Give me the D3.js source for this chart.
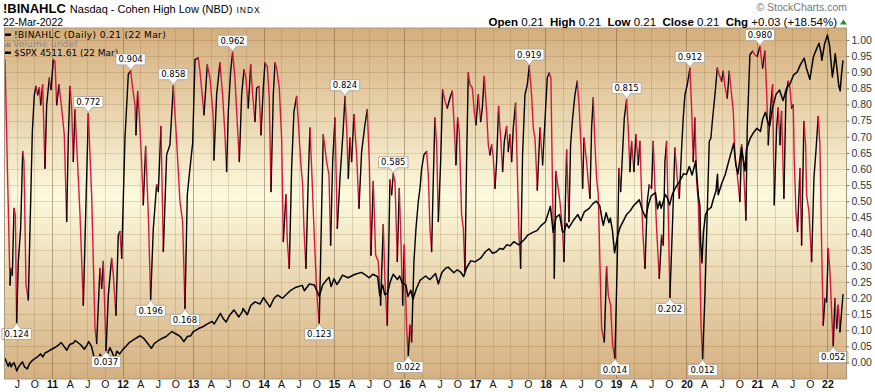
<!DOCTYPE html>
<html><head><meta charset="utf-8">
<script src="https://cdn.jsdelivr.net/npm/d3@7"></script>
<style>body{margin:0;background:#fff;}svg{display:block;}</style>
</head><body>
<svg id="chart" width="875" height="392"></svg>
<script>
// ---- DATA (time in decimal years, value) ----
const hlData = [[2010.333,0.939],[2010.404,0.240],[2010.418,0.292],[2010.437,0.271],[2010.461,0.478],[2010.480,0.458],[2010.498,0.124],[2010.522,0.313],[2010.555,0.416],[2010.584,0.654],[2010.602,0.623],[2010.631,0.240],[2010.664,0.194],[2010.688,0.416],[2010.721,0.716],[2010.749,0.830],[2010.773,0.856],[2010.796,0.830],[2010.820,0.851],[2010.839,0.799],[2010.867,0.861],[2010.900,0.602],[2010.924,0.799],[2010.962,0.882],[2010.985,0.846],[2011.019,0.939],[2011.042,0.934],[2011.066,0.799],[2011.099,0.861],[2011.137,0.789],[2011.174,0.706],[2011.208,0.437],[2011.231,0.696],[2011.255,0.856],[2011.279,0.789],[2011.302,0.623],[2011.326,0.784],[2011.373,0.571],[2011.397,0.458],[2011.444,0.178],[2011.515,0.772],[2011.562,0.520],[2011.610,0.106],[2011.633,0.059],[2011.680,0.292],[2011.704,0.230],[2011.728,0.313],[2011.766,0.037],[2011.799,0.209],[2011.846,0.323],[2011.870,0.271],[2011.907,0.147],[2011.940,0.395],[2011.964,0.406],[2011.988,0.323],[2012.035,0.696],[2012.082,0.893],[2012.115,0.904],[2012.144,0.851],[2012.177,0.799],[2012.191,0.706],[2012.215,0.840],[2012.238,0.768],[2012.271,0.623],[2012.295,0.489],[2012.328,0.670],[2012.366,0.458],[2012.399,0.196],[2012.437,0.416],[2012.484,0.551],[2012.508,0.530],[2012.546,0.732],[2012.579,0.344],[2012.626,0.644],[2012.673,0.675],[2012.721,0.858],[2012.768,0.685],[2012.815,0.499],[2012.853,0.437],[2012.886,0.168],[2012.919,0.520],[2012.957,0.602],[2012.995,0.680],[2013.028,0.939],[2013.075,0.944],[2013.099,0.903],[2013.156,0.768],[2013.203,0.923],[2013.241,0.882],[2013.288,0.758],[2013.297,0.628],[2013.335,0.830],[2013.382,0.929],[2013.420,0.830],[2013.453,0.706],[2013.477,0.592],[2013.501,0.778],[2013.534,0.903],[2013.562,0.962],[2013.595,0.882],[2013.619,0.778],[2013.657,0.623],[2013.690,0.830],[2013.723,0.908],[2013.751,0.882],[2013.784,0.789],[2013.818,0.923],[2013.846,0.830],[2013.879,0.747],[2013.903,0.851],[2013.936,0.856],[2013.964,0.706],[2013.997,0.851],[2014.021,0.929],[2014.054,0.918],[2014.082,0.820],[2014.106,0.530],[2014.139,0.830],[2014.163,0.929],[2014.186,0.913],[2014.224,0.851],[2014.257,0.696],[2014.281,0.375],[2014.319,0.520],[2014.338,0.375],[2014.366,0.292],[2014.399,0.602],[2014.432,0.778],[2014.470,0.825],[2014.494,0.747],[2014.527,0.623],[2014.555,0.551],[2014.574,0.416],[2014.602,0.292],[2014.635,0.571],[2014.659,0.727],[2014.683,0.602],[2014.716,0.416],[2014.754,0.219],[2014.791,0.123],[2014.825,0.478],[2014.848,0.706],[2014.872,0.665],[2014.895,0.623],[2014.929,0.582],[2014.952,0.364],[2014.981,0.623],[2015.014,0.758],[2015.047,0.416],[2015.085,0.571],[2015.132,0.727],[2015.156,0.824],[2015.180,0.727],[2015.203,0.571],[2015.227,0.696],[2015.250,0.623],[2015.283,0.768],[2015.321,0.644],[2015.354,0.478],[2015.392,0.654],[2015.439,0.737],[2015.472,0.784],[2015.501,0.623],[2015.524,0.333],[2015.557,0.561],[2015.591,0.333],[2015.628,0.313],[2015.661,0.178],[2015.699,0.427],[2015.723,0.251],[2015.756,0.116],[2015.794,0.566],[2015.818,0.520],[2015.841,0.585],[2015.865,0.561],[2015.898,0.313],[2015.926,0.540],[2015.950,0.375],[2015.974,0.178],[2015.997,0.364],[2016.030,0.106],[2016.054,0.022],[2016.078,0.116],[2016.101,0.064],[2016.134,0.313],[2016.163,0.416],[2016.196,0.499],[2016.220,0.540],[2016.243,0.600],[2016.276,0.644],[2016.314,0.654],[2016.338,0.582],[2016.361,0.416],[2016.385,0.344],[2016.409,0.571],[2016.432,0.758],[2016.456,0.675],[2016.480,0.437],[2016.513,0.623],[2016.541,0.846],[2016.574,0.810],[2016.607,0.789],[2016.645,0.820],[2016.678,0.841],[2016.702,0.747],[2016.730,0.613],[2016.754,0.758],[2016.777,0.716],[2016.810,0.458],[2016.834,0.416],[2016.858,0.282],[2016.881,0.623],[2016.905,0.898],[2016.929,0.861],[2016.962,0.851],[2016.990,0.778],[2017.014,0.737],[2017.047,0.830],[2017.080,0.747],[2017.104,0.789],[2017.132,0.887],[2017.165,0.778],[2017.189,0.675],[2017.212,0.644],[2017.236,0.675],[2017.260,0.634],[2017.283,0.540],[2017.307,0.623],[2017.335,0.794],[2017.364,0.696],[2017.392,0.592],[2017.416,0.685],[2017.449,0.732],[2017.472,0.654],[2017.496,0.706],[2017.520,0.623],[2017.543,0.727],[2017.576,0.804],[2017.600,0.602],[2017.624,0.395],[2017.647,0.292],[2017.675,0.644],[2017.709,0.830],[2017.742,0.861],[2017.770,0.919],[2017.803,0.830],[2017.827,0.727],[2017.851,0.696],[2017.884,0.535],[2017.922,0.727],[2017.959,0.613],[2017.992,0.747],[2018.025,0.882],[2018.054,0.898],[2018.077,0.882],[2018.101,0.520],[2018.125,0.261],[2018.148,0.592],[2018.181,0.540],[2018.205,0.499],[2018.243,0.406],[2018.262,0.313],[2018.300,0.659],[2018.333,0.437],[2018.356,0.675],[2018.385,0.758],[2018.418,0.830],[2018.451,0.872],[2018.479,0.789],[2018.503,0.675],[2018.527,0.540],[2018.546,0.696],[2018.583,0.623],[2018.607,0.561],[2018.631,0.509],[2018.654,0.727],[2018.678,0.820],[2018.702,0.675],[2018.725,0.571],[2018.749,0.520],[2018.773,0.302],[2018.796,0.106],[2018.834,0.064],[2018.867,0.297],[2018.891,0.209],[2018.924,0.178],[2018.952,0.054],[2018.985,0.014],[2019.018,0.313],[2019.042,0.602],[2019.066,0.530],[2019.094,0.654],[2019.118,0.758],[2019.151,0.815],[2019.174,0.727],[2019.198,0.592],[2019.222,0.685],[2019.255,0.592],[2019.283,0.706],[2019.316,0.613],[2019.340,0.685],[2019.378,0.416],[2019.411,0.292],[2019.444,0.499],[2019.472,0.551],[2019.505,0.540],[2019.529,0.685],[2019.553,0.540],[2019.576,0.416],[2019.614,0.261],[2019.647,0.395],[2019.671,0.364],[2019.694,0.623],[2019.718,0.685],[2019.742,0.458],[2019.765,0.202],[2019.803,0.437],[2019.836,0.665],[2019.869,0.571],[2019.898,0.509],[2019.931,0.665],[2019.954,0.758],[2019.978,0.830],[2020.011,0.861],[2020.049,0.912],[2020.073,0.789],[2020.096,0.623],[2020.120,0.758],[2020.144,0.561],[2020.167,0.499],[2020.191,0.313],[2020.205,0.126],[2020.229,0.012],[2020.262,0.209],[2020.295,0.468],[2020.323,0.685],[2020.347,0.696],[2020.371,0.758],[2020.404,0.830],[2020.437,0.913],[2020.465,0.892],[2020.498,0.872],[2020.522,0.903],[2020.546,0.856],[2020.579,0.820],[2020.607,0.903],[2020.640,0.830],[2020.664,0.778],[2020.687,0.644],[2020.711,0.602],[2020.735,0.551],[2020.758,0.499],[2020.782,0.675],[2020.806,0.623],[2020.843,0.442],[2020.862,0.727],[2020.900,0.954],[2020.938,0.965],[2020.971,0.954],[2021.004,0.949],[2021.042,0.980],[2021.080,0.913],[2021.113,0.965],[2021.137,0.841],[2021.160,0.675],[2021.184,0.768],[2021.222,0.861],[2021.245,0.489],[2021.278,0.727],[2021.302,0.789],[2021.326,0.675],[2021.349,0.778],[2021.382,0.509],[2021.411,0.830],[2021.444,0.872],[2021.468,0.851],[2021.491,0.789],[2021.515,0.799],[2021.529,0.623],[2021.553,0.468],[2021.576,0.406],[2021.610,0.602],[2021.633,0.364],[2021.666,0.747],[2021.690,0.675],[2021.704,0.520],[2021.737,0.468],[2021.775,0.313],[2021.808,0.571],[2021.836,0.654],[2021.869,0.763],[2021.893,0.675],[2021.917,0.364],[2021.940,0.116],[2021.964,0.199],[2021.988,0.188],[2022.011,0.354],[2022.035,0.282],[2022.059,0.157],[2022.082,0.052],[2022.106,0.199],[2022.130,0.106],[2022.153,0.178],[2022.177,0.095],[2022.220,0.210]];

const spxData = [[2010.334,1165],[2010.36,1110],[2010.38,1075],[2010.40,1120],[2010.42,1070],[2010.44,1100],[2010.46,1115],[2010.48,1075],[2010.50,1022],[2010.52,1060],[2010.55,1095],[2010.58,1125],[2010.61,1070],[2010.65,1047],[2010.68,1105],[2010.72,1140],[2010.75,1160],[2010.80,1185],[2010.84,1215],[2010.87,1180],[2010.90,1225],[2010.95,1245],[2011.00,1270],[2011.05,1290],[2011.10,1320],[2011.13,1343],[2011.17,1300],[2011.21,1256],[2011.25,1320],[2011.30,1335],[2011.33,1364],[2011.37,1340],[2011.41,1315],[2011.46,1268],[2011.50,1320],[2011.52,1353],[2011.56,1300],[2011.59,1200],[2011.61,1119],[2011.64,1180],[2011.66,1140],[2011.68,1210],[2011.71,1175],[2011.74,1130],[2011.75,1099],[2011.78,1200],[2011.82,1285],[2011.86,1220],[2011.89,1158],[2011.92,1245],[2011.96,1215],[2012.00,1260],[2012.05,1300],[2012.10,1345],[2012.17,1380],[2012.25,1419],[2012.30,1390],[2012.35,1340],[2012.41,1278],[2012.45,1330],[2012.50,1360],[2012.55,1385],[2012.62,1410],[2012.70,1466],[2012.78,1430],[2012.82,1410],[2012.87,1353],[2012.92,1410],[2012.97,1420],[2013.00,1462],[2013.08,1500],[2013.14,1520],[2013.20,1550],[2013.27,1580],[2013.30,1550],[2013.36,1630],[2013.39,1669],[2013.43,1610],[2013.47,1573],[2013.52,1650],[2013.58,1709],[2013.65,1630],[2013.70,1690],[2013.71,1725],[2013.77,1655],[2013.82,1760],[2013.88,1800],[2013.95,1775],[2014.00,1848],[2014.05,1790],[2014.09,1741],[2014.15,1840],[2014.20,1875],[2014.27,1840],[2014.32,1880],[2014.38,1925],[2014.45,1960],[2014.55,1985],[2014.58,1925],[2014.65,2000],[2014.72,1990],[2014.76,1920],[2014.79,1862],[2014.84,1990],[2014.90,2050],[2014.93,2075],[2014.96,1972],[2015.00,2060],[2015.04,1995],[2015.08,2040],[2015.12,2100],[2015.20,2070],[2015.25,2090],[2015.30,2110],[2015.39,2131],[2015.45,2100],[2015.50,2070],[2015.55,2110],[2015.60,2090],[2015.62,2080],[2015.65,1868],[2015.69,1990],[2015.72,1880],[2015.76,1900],[2015.80,2030],[2015.84,2109],[2015.90,2050],[2015.93,2090],[2015.97,2010],[2016.02,1990],[2016.05,1859],[2016.09,1930],[2016.12,1829],[2016.17,1950],[2016.22,2040],[2016.30,2090],[2016.36,2050],[2016.42,2100],[2016.44,2119],[2016.48,2001],[2016.53,2130],[2016.58,2175],[2016.62,2190],[2016.70,2127],[2016.75,2160],[2016.80,2130],[2016.84,2085],[2016.88,2180],[2016.94,2260],[2017.00,2250],[2017.08,2290],[2017.15,2365],[2017.20,2395],[2017.25,2345],[2017.30,2360],[2017.35,2400],[2017.40,2390],[2017.45,2440],[2017.50,2430],[2017.55,2475],[2017.62,2440],[2017.70,2500],[2017.75,2550],[2017.82,2580],[2017.88,2600],[2017.93,2650],[2018.00,2700],[2018.07,2873],[2018.10,2650],[2018.11,2581],[2018.15,2750],[2018.20,2780],[2018.24,2590],[2018.26,2582],[2018.30,2680],[2018.33,2630],[2018.40,2720],[2018.46,2780],[2018.50,2710],[2018.55,2810],[2018.62,2850],[2018.67,2900],[2018.72,2931],[2018.77,2880],[2018.80,2740],[2018.82,2660],[2018.86,2800],[2018.90,2690],[2018.92,2740],[2018.95,2600],[2018.98,2351],[2019.02,2530],[2019.06,2640],[2019.10,2700],[2019.15,2780],[2019.20,2820],[2019.25,2880],[2019.30,2920],[2019.33,2946],[2019.37,2840],[2019.42,2744],[2019.46,2890],[2019.50,2990],[2019.56,3026],[2019.59,2844],[2019.62,2930],[2019.64,2850],[2019.70,3005],[2019.73,2965],[2019.76,2887],[2019.80,3010],[2019.85,3090],[2019.90,3150],[2019.96,3240],[2020.00,3230],[2020.04,3320],[2020.08,3225],[2020.12,3345],[2020.13,3386],[2020.17,2980],[2020.19,2880],[2020.20,2480],[2020.22,2237],[2020.24,2580],[2020.27,2780],[2020.30,2830],[2020.35,2860],[2020.38,2950],[2020.42,3050],[2020.44,3232],[2020.45,3002],[2020.50,3130],[2020.55,3230],[2020.60,3380],[2020.67,3580],[2020.70,3340],[2020.73,3237],[2020.78,3534],[2020.83,3270],[2020.85,3510],[2020.90,3630],[2020.95,3700],[2021.00,3750],[2021.05,3714],[2021.08,3850],[2021.12,3930],[2021.15,3830],[2021.18,3770],[2021.22,3975],[2021.27,4130],[2021.32,4180],[2021.37,4060],[2021.42,4200],[2021.47,4250],[2021.52,4350],[2021.57,4380],[2021.62,4470],[2021.67,4537],[2021.70,4430],[2021.75,4300],[2021.80,4550],[2021.85,4650],[2021.88,4705],[2021.91,4590],[2021.92,4513],[2021.96,4700],[2022.00,4797],[2022.03,4680],[2022.07,4326],[2022.10,4500],[2022.11,4587],[2022.14,4380],[2022.16,4230],[2022.18,4170],[2022.20,4360],[2022.22,4512]];

const peakTimes   = [2011.515, 2012.115, 2012.721, 2013.562, 2015.156, 2015.841, 2017.770, 2019.151, 2020.049, 2021.042];
const troughTimes = [2010.498, 2011.766, 2012.399, 2012.886, 2014.791, 2016.054, 2018.985, 2019.765, 2020.229, 2022.082];

const yTickValues = d3.range(0, 1.0001, 0.05);
const xTickTimes  = d3.range(2010.5, 2022.01, 0.25);
const quarterLetters = {0.25: "A", 0.5: "J", 0.75: "O"};

const visibleRange = [2010.326, 2022.27];   // time span of the plot window
const hlDomain  = [-0.051, 1.037];
const spxDomain = [933, 4876];

// ---- LAYOUT ----
const plot = {left: 4.5, right: 846.5, top: 28, bottom: 379};
const RED = "#dc143c";
const svg = d3.select("#chart");

const x = d3.scaleLinear().domain(visibleRange).range([plot.left, plot.right]);
const y = d3.scaleLinear().domain(hlDomain).range([plot.bottom, plot.top]);
const ySpx = d3.scaleLinear().domain(spxDomain).range([plot.bottom, plot.top]);

const defs = svg.append("defs");
const grad = defs.append("linearGradient").attr("id", "bg").attr("x1", 0).attr("y1", 0).attr("x2", 0).attr("y2", 1);
grad.append("stop").attr("offset", "0%").attr("stop-color", "#d4ae7d");
grad.append("stop").attr("offset", "48%").attr("stop-color", "#fcf9dd");
grad.append("stop").attr("offset", "100%").attr("stop-color", "#d4b080");
defs.append("clipPath").attr("id", "clip").append("rect")
  .attr("x", plot.left).attr("y", plot.top).attr("width", plot.right - plot.left).attr("height", plot.bottom - plot.top);

svg.append("rect").attr("x", plot.left).attr("y", plot.top)
  .attr("width", plot.right - plot.left).attr("height", plot.bottom - plot.top)
  .attr("fill", "url(#bg)");

// grid
const grid = svg.append("g");
grid.selectAll("line.h").data(yTickValues).join("line")
  .attr("x1", plot.left).attr("x2", plot.right)
  .attr("y1", d => Math.round(y(d)) + 0.5).attr("y2", d => Math.round(y(d)) + 0.5)
  .attr("stroke", "rgba(140,100,55,0.22)").attr("stroke-width", 1);
grid.selectAll("line.v").data(xTickTimes).join("line")
  .attr("y1", plot.top).attr("y2", plot.bottom)
  .attr("x1", d => Math.round(x(d)) + 0.5).attr("x2", d => Math.round(x(d)) + 0.5)
  .attr("stroke", d => Number.isInteger(d) ? "rgba(110,80,45,0.45)" : "rgba(140,100,55,0.22)")
  .attr("stroke-width", 1);

const body = svg.append("g").attr("clip-path", "url(#clip)");

// BINAHLC: black when rising, red when falling
const runs = [];
d3.pairs(hlData).forEach(([a, b]) => {
  const up = b[1] >= a[1];
  const last = runs[runs.length - 1];
  if (last && last.up === up) last.pts.push(b);
  else runs.push({up, pts: [a, b]});
});
const lineHL = d3.line().x(d => x(d[0])).y(d => y(d[1]));
body.selectAll("path.hl").data(runs).join("path")
  .attr("d", d => lineHL(d.pts))
  .attr("fill", "none")
  .attr("stroke", d => d.up ? "#000" : RED)
  .attr("stroke-width", 1.4)
  .attr("stroke-linejoin", "round").attr("stroke-linecap", "round");

// SPX overlay
body.append("path").datum(spxData)
  .attr("d", d3.line().x(d => x(d[0])).y(d => ySpx(d[1])))
  .attr("fill", "none").attr("stroke", "#000").attr("stroke-width", 1.5)
  .attr("stroke-linejoin", "round");

// legend
const leg = svg.append("g").attr("font-family", "DejaVu Sans, Verdana, sans-serif").attr("font-size", "9px");
leg.append("rect").attr("x", 5).attr("y", 33.5).attr("width", 6).attr("height", 2.5).attr("fill", "#000");
leg.append("text").attr("x", 14).attr("y", 38).attr("fill", "#000").attr("letter-spacing", "0.4px").text("!BINAHLC (Daily) 0.21 (22 Mar)");
[[5,3],[7,5],[9,4]].forEach(([bx, bh]) =>
  leg.append("rect").attr("x", bx).attr("y", 47 - bh).attr("width", 1.5).attr("height", bh).attr("fill", "#8a8a8a"));
leg.append("text").attr("x", 13).attr("y", 47).attr("fill", "#8a8a8a").attr("letter-spacing", "0.2px").text("Volume undef");
leg.append("rect").attr("x", 5).attr("y", 51.5).attr("width", 6).attr("height", 2.5).attr("fill", "#000");
leg.append("text").attr("x", 14).attr("y", 56).attr("fill", "#000").text("$SPX 4511.61 (22 Mar)");

// annotations
const fmt = d3.format(".3f");
const ann = svg.append("g").attr("font-family", "DejaVu Sans, Verdana, sans-serif").attr("font-size", "8.5px");
function addLabel(t, isPeak) {
  const p = hlData.find(d => Math.abs(d[0] - t) < 1e-6);
  const px = x(p[0]), py = y(p[1]);
  const g = ann.append("g");
  const path = g.append("path");
  const txt = g.append("text").text(fmt(p[1])).attr("fill", "#000").attr("text-anchor", "middle");
  const w = txt.node().getComputedTextLength() + 5;
  const boxH = 11, tri = 5, half = 4;
  const x0 = px - w / 2, x1 = px + w / 2;
  let d;
  if (isPeak) {
    const yb = py - 1 - tri, yt = yb - boxH;
    d = `M${x0},${yt}H${x1}V${yb}H${px + half}L${px},${py - 1}L${px - half},${yb}H${x0}Z`;
    txt.attr("x", px).attr("y", yb - 2.5);
  } else {
    const yt = py + 1 + tri, yb = yt + boxH;
    d = `M${x0},${yt}H${px - half}L${px},${py + 1}L${px + half},${yt}H${x1}V${yb}H${x0}Z`;
    txt.attr("x", px).attr("y", yb - 2.5);
  }
  path.attr("d", d).attr("fill", "#fff").attr("stroke", "#b5aca0").attr("stroke-width", 1);
}
peakTimes.forEach(t => addLabel(t, true));
troughTimes.forEach(t => addLabel(t, false));

// plot border
svg.append("rect").attr("x", plot.left).attr("y", plot.top)
  .attr("width", plot.right - plot.left).attr("height", plot.bottom - plot.top)
  .attr("fill", "none").attr("stroke", "#a8977f").attr("stroke-width", 1);

// right axis
const yAxis = svg.append("g").attr("transform", `translate(${plot.right},0)`)
  .call(d3.axisRight(y).tickValues(yTickValues).tickFormat(d3.format(".2f")).tickSize(3).tickPadding(2));
yAxis.select(".domain").remove();
yAxis.selectAll("line").attr("stroke", "#777");
yAxis.selectAll("text").attr("font-family", "Liberation Sans, Arial, sans-serif").attr("font-size", "10.5px").attr("fill", "#333");

// bottom axis
const xAxis = svg.append("g").attr("transform", `translate(0,${plot.bottom})`)
  .call(d3.axisBottom(x).tickValues(xTickTimes).tickSize(0).tickPadding(1.5)
    .tickFormat(d => Number.isInteger(d) ? String(d % 100).padStart(2, "0") : quarterLetters[+(d % 1).toFixed(2)]));
xAxis.select(".domain").remove();
xAxis.selectAll("text").attr("font-family", "Liberation Sans, Arial, sans-serif").attr("font-size", "10.5px").attr("fill", "#111")
  .attr("font-weight", d => Number.isInteger(d) ? "bold" : "normal");

// header
const head = svg.append("g").attr("font-family", "Liberation Sans, Arial, sans-serif");
const t1 = head.append("text").attr("x", 3).attr("y", 12.5);
t1.append("tspan").attr("font-weight", "bold").attr("font-size", "13px").text("!BINAHLC");
t1.append("tspan").attr("font-size", "11px").attr("dx", 4).text("Nasdaq - Cohen High Low (NBD)");
t1.append("tspan").attr("font-size", "8.5px").attr("dx", 4).attr("letter-spacing", "1px").text("INDX");
head.append("text").attr("x", 3).attr("y", 25.5).attr("font-size", "10.5px").text("22-Mar-2022");
head.append("text").attr("x", 847).attr("y", 11).attr("text-anchor", "end").attr("font-size", "10.5px").attr("fill", "#777").text("© StockCharts.com");
const ohlc = head.append("text").attr("x", 837).attr("y", 25.5).attr("text-anchor", "end").attr("font-size", "11.5px").style("white-space", "pre");
[["Open", " 0.21  "], ["High", " 0.21  "], ["Low", " 0.21  "], ["Close", " 0.21  "], ["Chg", " +0.03 (+18.54%)"]].forEach(([k, v]) => {
  ohlc.append("tspan").attr("font-weight", "bold").text(k);
  ohlc.append("tspan").text(v);
});
head.append("path").attr("d", "M840,24.5L843.5,19.5L847,24.5Z").attr("fill", "#2e8b2e");
</script>
</body></html>
